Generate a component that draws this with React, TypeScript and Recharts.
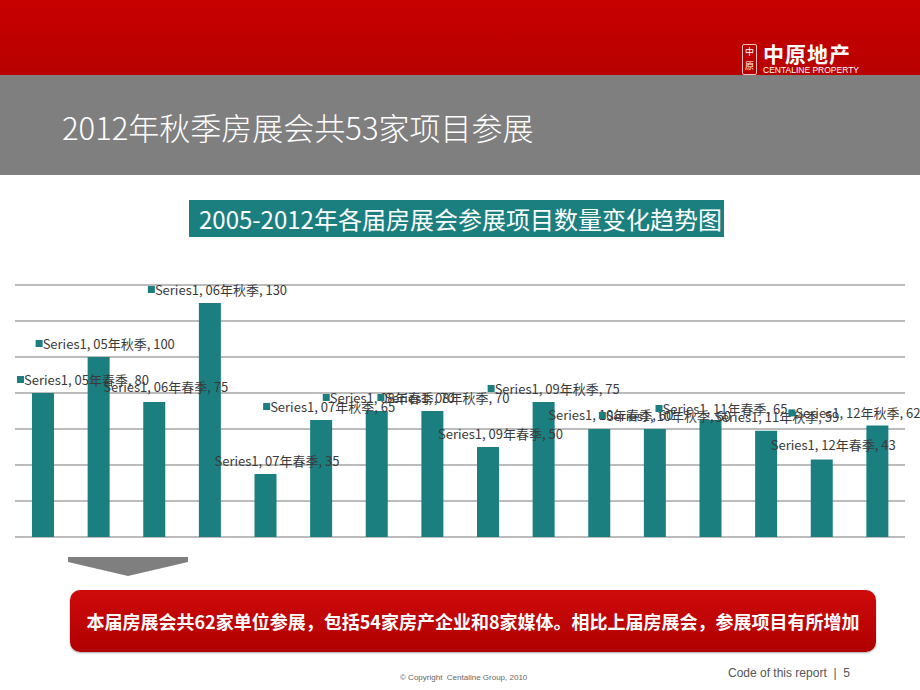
import React from "react";
import { BarChart, Bar, XAxis, YAxis, CartesianGrid, LabelList } from "recharts";

// 各届房展会参展项目数量
const seasons = [
  "05年春季", "05年秋季", "06年春季", "06年秋季",
  "07年春季", "07年秋季", "08年春季", "08年秋季",
  "09年春季", "09年秋季", "10年春季", "10年秋季",
  "11年春季", "11年秋季", "12年春季", "12年秋季",
];
const projectCounts = [80, 100, 75, 130, 35, 65, 70, 70, 50, 75, 60, 60, 65, 59, 43, 62];
const yTicks = [0, 20, 40, 60, 80, 100, 120, 140];
const seriesName = "Series1";

// where each data label sits relative to its bar (dx from bar centre, dy from bar top, legend key shown)
const labelLayout: [number, number, boolean][] = [
  [-26, -14, true], [-63, -14, true], [-51, -16, false], [-62, -14, true],
  [-51, -14, false], [-58, -14, true], [-54, -14, true], [-55, -14, true],
  [-50, -14, false], [-56, -14, true], [-51, -15, false], [-56, -14, true],
  [-55, -12, true], [-52, -14, false], [-51, -15, false], [-89, -13, true],
];

const TEAL = "#1b7f80";
const RED = "#c00000";
const CJK = '"Noto Sans CJK SC", "Noto Sans", sans-serif';

const data = seasons.map((s, i) => ({ season: s, count: projectCounts[i] }));

const DataLabel = (props: any) => {
  const { x, y, width, index, value } = props;
  const [dx, dy, marker] = labelLayout[index];
  const cx = Number(x) + Number(width) / 2;
  const left = cx + dx;
  const top = Number(y) + dy;
  return (
    <g>
      {marker && <rect x={left} y={top - 3} width={7} height={7} fill={TEAL} />}
      <text
        x={marker ? left + 7 : left}
        y={top}
        dominantBaseline="central"
        fontSize={13}
        fill="#3a3a3a"
        fontFamily={CJK}
      >
        {`${seriesName}, ${seasons[index]}, ${value}`}
      </text>
    </g>
  );
};

const App: React.FC = () => {
  return (
    <div style={{ position: "absolute", top: 0, left: 0, width: 920, height: 690, background: "#fff", overflow: "hidden", fontFamily: CJK }}>
      {/* red header */}
      <div style={{ position: "absolute", top: 0, left: 0, width: 920, height: 75, background: "linear-gradient(#c80000, #b80000)" }} />
      <div style={{ position: "absolute", left: 742, top: 44, width: 13, height: 29, border: "1px solid #f2c0c0", borderRadius: 2, color: "#fff", fontSize: 9, lineHeight: "14px", textAlign: "center" }}>
        中<br />原
      </div>
      <div style={{ position: "absolute", left: 763, top: 40, color: "#fff", fontSize: 21, fontWeight: 700, letterSpacing: 1, lineHeight: "26px" }}>
        中原地产
      </div>
      <div style={{ position: "absolute", left: 763, top: 64, color: "#fff", fontSize: 8.5, fontFamily: "Liberation Sans, Arial, sans-serif", lineHeight: "12px" }}>
        CENTALINE PROPERTY
      </div>

      {/* grey title band */}
      <div style={{ position: "absolute", top: 75, left: 0, width: 920, height: 100, background: "#7f7f7f" }} />
      <div style={{ position: "absolute", left: 62, top: 106, color: "#fff", fontSize: 31, fontWeight: 300, lineHeight: "42px", whiteSpace: "nowrap" }}>
        2012年秋季房展会共53家项目参展
      </div>

      {/* chart title box */}
      <div style={{ position: "absolute", left: 189, top: 200, width: 535, height: 37, background: TEAL, color: "#fff", fontSize: 24, lineHeight: "37px", paddingLeft: 10, boxSizing: "border-box", whiteSpace: "nowrap" }}>
        2005-2012年各届房展会参展项目数量变化趋势图
      </div>

      <div style={{ position: "absolute", left: 0, top: 260 }}>
        <BarChart width={920} height={300} data={data} margin={{ top: 25, right: 15, bottom: 23, left: 15 }} barSize={22}>
          <CartesianGrid vertical={false} stroke="#a6a6a6" strokeWidth={1.5} />
          <XAxis dataKey="season" hide />
          <YAxis domain={[0, 140]} ticks={yTicks} hide />
          <Bar dataKey="count" fill={TEAL} isAnimationActive={false}>
            <LabelList dataKey="count" content={DataLabel} />
          </Bar>
        </BarChart>
      </div>

      {/* grey arrow */}
      <svg style={{ position: "absolute", left: 0, top: 550 }} width={200} height={30}>
        <polygon points="68,7 188,7 188,12 128,26 68,12" fill="#7f7f7f" />
      </svg>

      {/* red conclusion box */}
      <div style={{ position: "absolute", left: 70, top: 590, width: 806, height: 62, borderRadius: 10, background: "linear-gradient(#cf0a0a, #b00000)", boxShadow: "0 1px 2px rgba(0,0,0,0.35)", color: "#fff", fontSize: 18, fontWeight: 700, lineHeight: "62px", textAlign: "center", whiteSpace: "nowrap" }}>
        本届房展会共62家单位参展，包括54家房产企业和8家媒体。相比上届房展会，参展项目有所增加
      </div>

      {/* footer */}
      <div style={{ position: "absolute", left: 400, top: 673, fontSize: 8, color: "#666", fontFamily: "Liberation Sans, Arial, sans-serif", whiteSpace: "nowrap" }}>
        © Copyright&nbsp; Centaline Group, 2010
      </div>
      <div style={{ position: "absolute", left: 728, top: 666, fontSize: 12, color: "#555", fontFamily: "Liberation Sans Narrow, Liberation Sans, Arial, sans-serif", whiteSpace: "nowrap" }}>
        Code of this report &nbsp;|&nbsp; 5
      </div>
    </div>
  );
};

export default App;
